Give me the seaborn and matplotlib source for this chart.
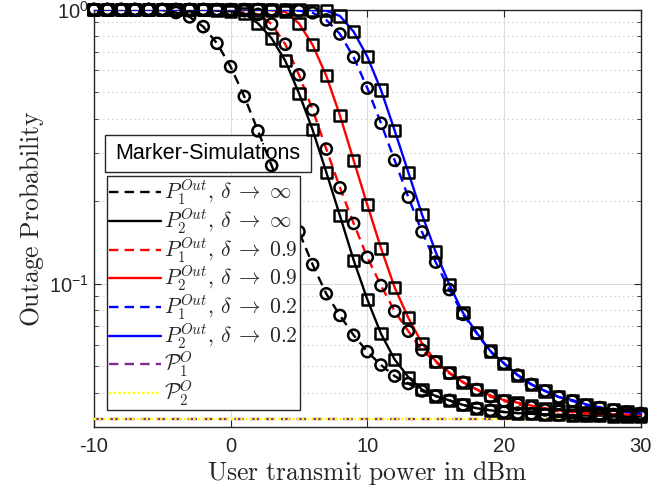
import numpy as np
import pandas as pd
import matplotlib
matplotlib.use("Agg")
import matplotlib.pyplot as plt
import seaborn as sns
from matplotlib.lines import Line2D
from matplotlib.patches import Rectangle
from matplotlib.ticker import LogLocator, FixedLocator, NullFormatter

# ---------------- data ----------------
power_dbm = list(range(-10, 31))

p1_inf = [1.0, 1.0, 1.0, 1.0, 1.0, 0.995, 0.975, 0.94, 0.866, 0.753,
          0.619, 0.482, 0.361, 0.27, 0.205, 0.155, 0.1175, 0.092, 0.0767, 0.065,
          0.0566, 0.0506, 0.0461, 0.0433, 0.0407, 0.039, 0.0376, 0.0362, 0.0352, 0.0346,
          0.0341, 0.0338, 0.0336, 0.0334, 0.0333, 0.0332, 0.0331, 0.0331, 0.033, 0.033, 0.033]
p2_inf = [1.0, 1.0, 1.0, 1.0, 1.0, 1.0, 1.0, 1.0, 0.998, 0.99,
          0.985, 0.968, 0.89, 0.785, 0.65, 0.495, 0.364, 0.255, 0.177, 0.122,
          0.0877, 0.0658, 0.053, 0.0457, 0.0412, 0.039, 0.0376, 0.0362, 0.0352, 0.0346,
          0.0341, 0.0338, 0.0336, 0.0334, 0.0333, 0.0332, 0.0331, 0.0331, 0.033, 0.033, 0.033]
p1_09 = [1.0, 1.0, 1.0, 1.0, 1.0, 1.0, 1.0, 1.0, 1.0, 0.998,
         0.995, 0.99, 0.96, 0.885, 0.747, 0.578, 0.431, 0.31, 0.224, 0.166,
         0.125, 0.0986, 0.0795, 0.0672, 0.0573, 0.0519, 0.0472, 0.0438, 0.0412, 0.0388,
         0.0374, 0.0364, 0.0356, 0.0347, 0.0343, 0.034, 0.0337, 0.0335, 0.0334, 0.0333, 0.0332]
p2_09 = [1.0, 1.0, 1.0, 1.0, 1.0, 1.0, 1.0, 1.0, 1.0, 1.0,
         1.0, 0.998, 0.997, 0.995, 0.98, 0.89, 0.743, 0.573, 0.411, 0.282,
         0.194, 0.135, 0.097, 0.0752, 0.0607, 0.0523, 0.0475, 0.0438, 0.0412, 0.0392,
         0.0377, 0.0369, 0.036, 0.0352, 0.0346, 0.0342, 0.0339, 0.0337, 0.0335, 0.0334, 0.0333]
p1_02 = [1.0, 1.0, 1.0, 1.0, 1.0, 1.0, 1.0, 1.0, 1.0, 1.0,
         1.0, 1.0, 1.0, 0.998, 0.995, 0.99, 0.973, 0.916, 0.814, 0.67,
         0.517, 0.385, 0.282, 0.207, 0.1546, 0.12, 0.0953, 0.0774, 0.066, 0.0566,
         0.0513, 0.0465, 0.043, 0.0407, 0.0387, 0.0374, 0.0361, 0.0354, 0.0347, 0.0341, 0.0337]
p2_02 = [1.0, 1.0, 1.0, 1.0, 1.0, 1.0, 1.0, 1.0, 1.0, 1.0,
         1.0, 1.0, 1.0, 1.0, 1.0, 0.998, 0.995, 0.99, 0.947, 0.83,
         0.673, 0.509, 0.362, 0.255, 0.179, 0.1307, 0.0994, 0.0784, 0.0664, 0.0569,
         0.0513, 0.0465, 0.043, 0.0407, 0.0387, 0.0377, 0.0364, 0.0355, 0.0347, 0.0341, 0.0337]
p1_floor = [0.0323] * len(power_dbm)
p2_floor = [0.0323] * len(power_dbm)

legend_labels = [r"$P_1^{Out},\,\delta\;\rightarrow\;\infty$",
                 r"$P_2^{Out},\,\delta\;\rightarrow\;\infty$",
                 r"$P_1^{Out},\,\delta\;\rightarrow\;0.9$",
                 r"$P_2^{Out},\,\delta\;\rightarrow\;0.9$",
                 r"$P_1^{Out},\,\delta\;\rightarrow\;0.2$",
                 r"$P_2^{Out},\,\delta\;\rightarrow\;0.2$",
                 r"$\mathcal{P}_1^{O}$",
                 r"$\mathcal{P}_2^{O}$"]
x_ticks = [-10, 0, 10, 20, 30]
x_label = r"$\mathrm{User\ transmit\ power\ in\ dBm}$"
y_label = r"$\mathrm{Outage\ Probability}$"
box_text = "Marker-Simulations"

# ---------------- style ----------------
sns.set_theme(style="white")
plt.rcParams["font.family"] = ["Liberation Sans", "DejaVu Sans"]
plt.rcParams["mathtext.fontset"] = "cm"
plt.rcParams["axes.unicode_minus"] = False

fig = plt.figure(figsize=(6.54, 5.01), dpi=100)
ax = fig.add_axes([0.1436, 0.1471, 0.8361, 0.8339])

df = pd.DataFrame({"x": power_dbm, "p1_inf": p1_inf, "p2_inf": p2_inf,
                   "p1_09": p1_09, "p2_09": p2_09, "p1_02": p1_02, "p2_02": p2_02,
                   "p1f": p1_floor, "p2f": p2_floor})

DASH = (0, (4.0, 2.6))
LW = 1.7
series = [("p1_inf", "black", DASH, "o"),
          ("p2_inf", "black", "-", "s"),
          ("p1_09", "red", DASH, "o"),
          ("p2_09", "red", "-", "s"),
          ("p1_02", "blue", DASH, "o"),
          ("p2_02", "blue", "-", "s")]

for col, c, ls, m in series:
    sns.lineplot(data=df, x="x", y=col, ax=ax, color=c, linestyle=ls, linewidth=LW, zorder=3)
for col, c, ls, m in series:
    sns.scatterplot(data=df, x="x", y=col, ax=ax, marker=m, s=64,
                    facecolors="none", edgecolor="black", linewidth=1.8, zorder=4,
                    clip_on=False)

purple = "#7E2F8E"
sns.lineplot(data=df, x="x", y="p1f", ax=ax, color=purple, linestyle=DASH, linewidth=LW, zorder=3)
sns.lineplot(data=df, x="x", y="p2f", ax=ax, color="#FFFF00", linestyle=(0, (1.0, 1.0)), linewidth=LW, zorder=3)

ax.set_yscale("log")
ax.set_xlim(-10, 30)
ax.set_ylim(0.03, 1.0)

ax.xaxis.set_major_locator(FixedLocator(x_ticks))
ax.set_xticklabels([str(t) for t in x_ticks])
ax.yaxis.set_major_locator(LogLocator(base=10, numticks=10))
ax.yaxis.set_minor_locator(LogLocator(base=10, subs=np.arange(2, 10), numticks=10))
ax.yaxis.set_minor_formatter(NullFormatter())

ax.tick_params(axis="both", which="both", direction="in", top=True, right=True,
               bottom=True, left=True, colors="#262626", labelcolor="#262626", labelsize=14.5)
ax.tick_params(which="major", length=5, width=0.8)
ax.tick_params(which="minor", length=3, width=0.6)
ax.tick_params(axis="x", pad=7)

ax.grid(True, which="major", axis="both", color="#dcdcdc", linewidth=0.8, linestyle="-")
ax.grid(True, which="minor", axis="y", color="#c0c0c0", linewidth=0.8, linestyle=(0, (1, 3)))
ax.set_axisbelow(True)

for sp in ax.spines.values():
    sp.set_color("#262626")
    sp.set_linewidth(1.0)

ax.set_xlabel(x_label, fontsize=18.5, color="#262626", labelpad=2)
ax.set_ylabel(y_label, fontsize=18.5, color="#262626", labelpad=2)

# legend
handles = [Line2D([], [], color="black", linestyle=DASH, linewidth=LW),
           Line2D([], [], color="black", linestyle="-", linewidth=LW),
           Line2D([], [], color="red", linestyle=DASH, linewidth=LW),
           Line2D([], [], color="red", linestyle="-", linewidth=LW),
           Line2D([], [], color="blue", linestyle=DASH, linewidth=LW),
           Line2D([], [], color="blue", linestyle="-", linewidth=LW),
           Line2D([], [], color=purple, linestyle=DASH, linewidth=LW),
           Line2D([], [], color="#FFFF00", linestyle=(0, (1, 1)), linewidth=LW)]
leg = ax.legend(handles, legend_labels, loc="lower left", bbox_to_anchor=(0.024, 0.041),
                fontsize=15.5, frameon=True, fancybox=False, framealpha=1.0,
                edgecolor="#262626", handlelength=2.4, handletextpad=0.15,
                labelspacing=-0.02, borderpad=0.1, borderaxespad=0.0)
leg.get_frame().set_linewidth(1.0)
leg.set_zorder(10)

# simulation marker box
rect = Rectangle((0.0203, 0.611), 0.3763, 0.089, transform=ax.transAxes,
                 facecolor="white", edgecolor="#262626", linewidth=1.0, zorder=2)
ax.add_patch(rect)
ax.text(0.0203 + 0.3763 / 2, 0.611 + 0.089 / 2, box_text, transform=ax.transAxes,
        ha="center", va="center", fontsize=15.5, color="black", zorder=2.1)

fig.savefig("out.png", dpi=100)
